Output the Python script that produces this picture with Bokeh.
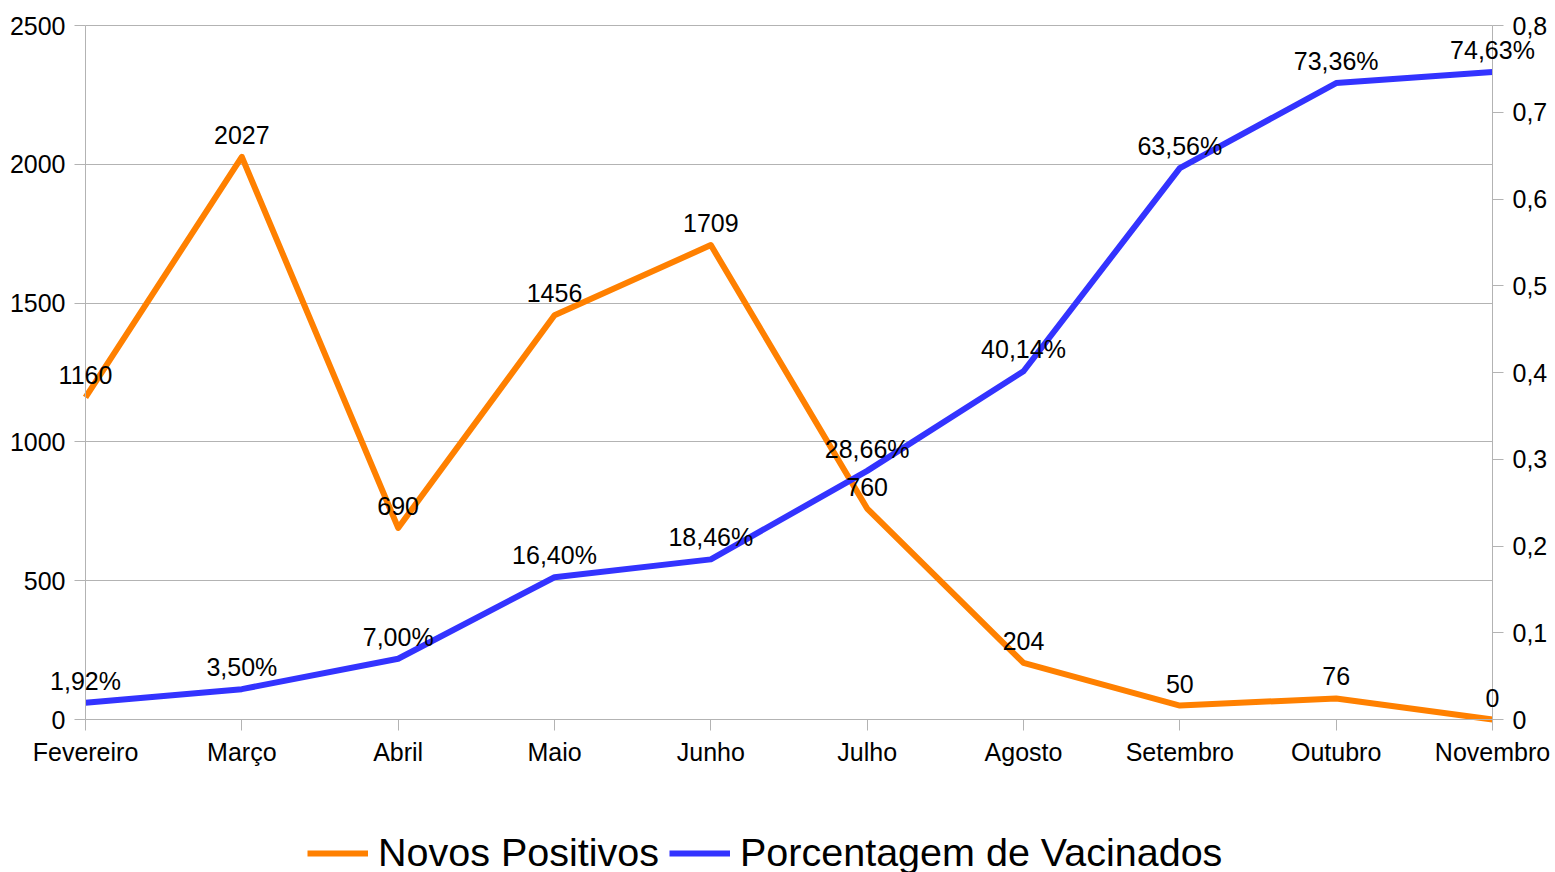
from bokeh.plotting import figure
from bokeh.models import (Range1d, LinearAxis, FixedTicker, ColumnDataSource,
                          Label, Legend, LegendItem)
from bokeh.embed import file_html
from bokeh.resources import INLINE

# ---- data ----
months = ["Fevereiro", "Março", "Abril", "Maio", "Junho", "Julho",
          "Agosto", "Setembro", "Outubro", "Novembro"]
novos_positivos = [1160, 2027, 690, 1456, 1709, 760, 204, 50, 76, 0]
pct_vacinados = [0.0192, 0.0350, 0.0700, 0.1640, 0.1846, 0.2866,
                 0.4014, 0.6356, 0.7336, 0.7463]
left_ticks = [0, 500, 1000, 1500, 2000, 2500]
right_ticks = [0.0, 0.1, 0.2, 0.3, 0.4, 0.5, 0.6, 0.7, 0.8]
right_tick_labels = ["0", "0,1", "0,2", "0,3", "0,4", "0,5", "0,6", "0,7", "0,8"]

FONT = "Liberation Sans"
GREY = "#b3b3b3"
ORANGE = "#ff8000"
BLUE = "#3333ff"
FS = "25px"

x = list(range(len(months)))
pos_labels = [str(v) for v in novos_positivos]
pct_labels = [f"{v * 100:.2f}".replace(".", ",") + "%" for v in pct_vacinados]

src = ColumnDataSource(dict(x=x, pos=novos_positivos, pct=pct_vacinados))

# ---- layout: the frame fills the canvas; axes sit at fixed data positions ----
W, H = 1555, 872
PX_L, PX_R, PX_T, PX_B = 85, 1492, 25, 719   # plot-area corners on the canvas
nx = len(months) - 1
sx = (PX_R - PX_L) / nx
sy = (PX_B - PX_T) / left_ticks[-1]
sy2 = (PX_B - PX_T) / right_ticks[-1]

x_range = Range1d(-PX_L / sx, nx + (W - PX_R) / sx)
y_range = Range1d(-(H - PX_B) / sy, left_ticks[-1] + PX_T / sy)
y2_range = Range1d(-(H - PX_B) / sy2, right_ticks[-1] + PX_T / sy2)

p = figure(width=W, height=H, output_backend="svg", toolbar_location=None,
           x_range=x_range, y_range=y_range,
           min_border_left=0, min_border_right=0, min_border_top=0,
           min_border_bottom=0)
p.extra_y_ranges = {"pct": y2_range}
p.outline_line_color = None
p.background_fill_color = "white"
p.border_fill_color = "white"

p.xgrid.grid_line_color = None
p.ygrid.grid_line_color = GREY
p.ygrid.grid_line_width = 1
p.ygrid.ticker = FixedTicker(ticks=left_ticks)
p.ygrid.bounds = (left_ticks[0], left_ticks[-1])
p.ygrid.cross_bounds = (0, nx)

def style_axis(ax):
    ax.axis_line_color = GREY
    ax.major_tick_line_color = GREY
    ax.minor_tick_line_color = None
    ax.major_tick_out = 11
    ax.major_tick_in = 0
    ax.major_label_text_font = FONT
    ax.major_label_text_font_size = FS
    ax.major_label_text_color = "black"

xa = p.xaxis[0]
xa.ticker = FixedTicker(ticks=x)
xa.major_label_overrides = {i: m for i, m in zip(x, months)}
style_axis(xa)
xa.major_label_standoff = 7
xa.fixed_location = 0
xa.bounds = (0, nx)

ya = p.yaxis[0]
ya.ticker = FixedTicker(ticks=left_ticks)
style_axis(ya)
ya.major_label_standoff = 9
ya.fixed_location = 0
ya.bounds = (left_ticks[0], left_ticks[-1])

ra = LinearAxis(y_range_name="pct", ticker=FixedTicker(ticks=right_ticks))
ra.major_label_overrides = {t: l for t, l in zip(right_ticks, right_tick_labels)}
style_axis(ra)
ra.major_label_standoff = 9
ra.fixed_location = nx
ra.bounds = (right_ticks[0], right_ticks[-1])
p.add_layout(ra, "right")

r1 = p.line("x", "pos", source=src, line_color=ORANGE, line_width=6,
            line_join="round")
r2 = p.line("x", "pct", source=src, line_color=BLUE, line_width=6,
            line_join="round", y_range_name="pct")

for xi, v, t in zip(x, novos_positivos, pos_labels):
    p.add_layout(Label(x=xi, y=v, text=t, text_align="center",
                       text_baseline="middle", y_offset=22, text_font=FONT,
                       text_font_size=FS, text_color="black"))
for xi, v, t in zip(x, pct_vacinados, pct_labels):
    p.add_layout(Label(x=xi, y=v, text=t, text_align="center",
                       text_baseline="middle", y_offset=22, text_font=FONT,
                       text_font_size=FS, text_color="black",
                       y_range_name="pct"))

legend = Legend(items=[LegendItem(label="Novos Positivos", renderers=[r1]),
                       LegendItem(label="Porcentagem de Vacinados", renderers=[r2])],
                orientation="horizontal", location=(307, -3),
                label_text_font=FONT, label_text_font_size="39.5px",
                label_text_color="black", glyph_width=61, glyph_height=40,
                label_height=40, label_standoff=10, spacing=10, padding=0,
                margin=0, border_line_color=None, background_fill_alpha=0)
p.add_layout(legend, "center")

open("out.html", "w").write(file_html(p, INLINE))
